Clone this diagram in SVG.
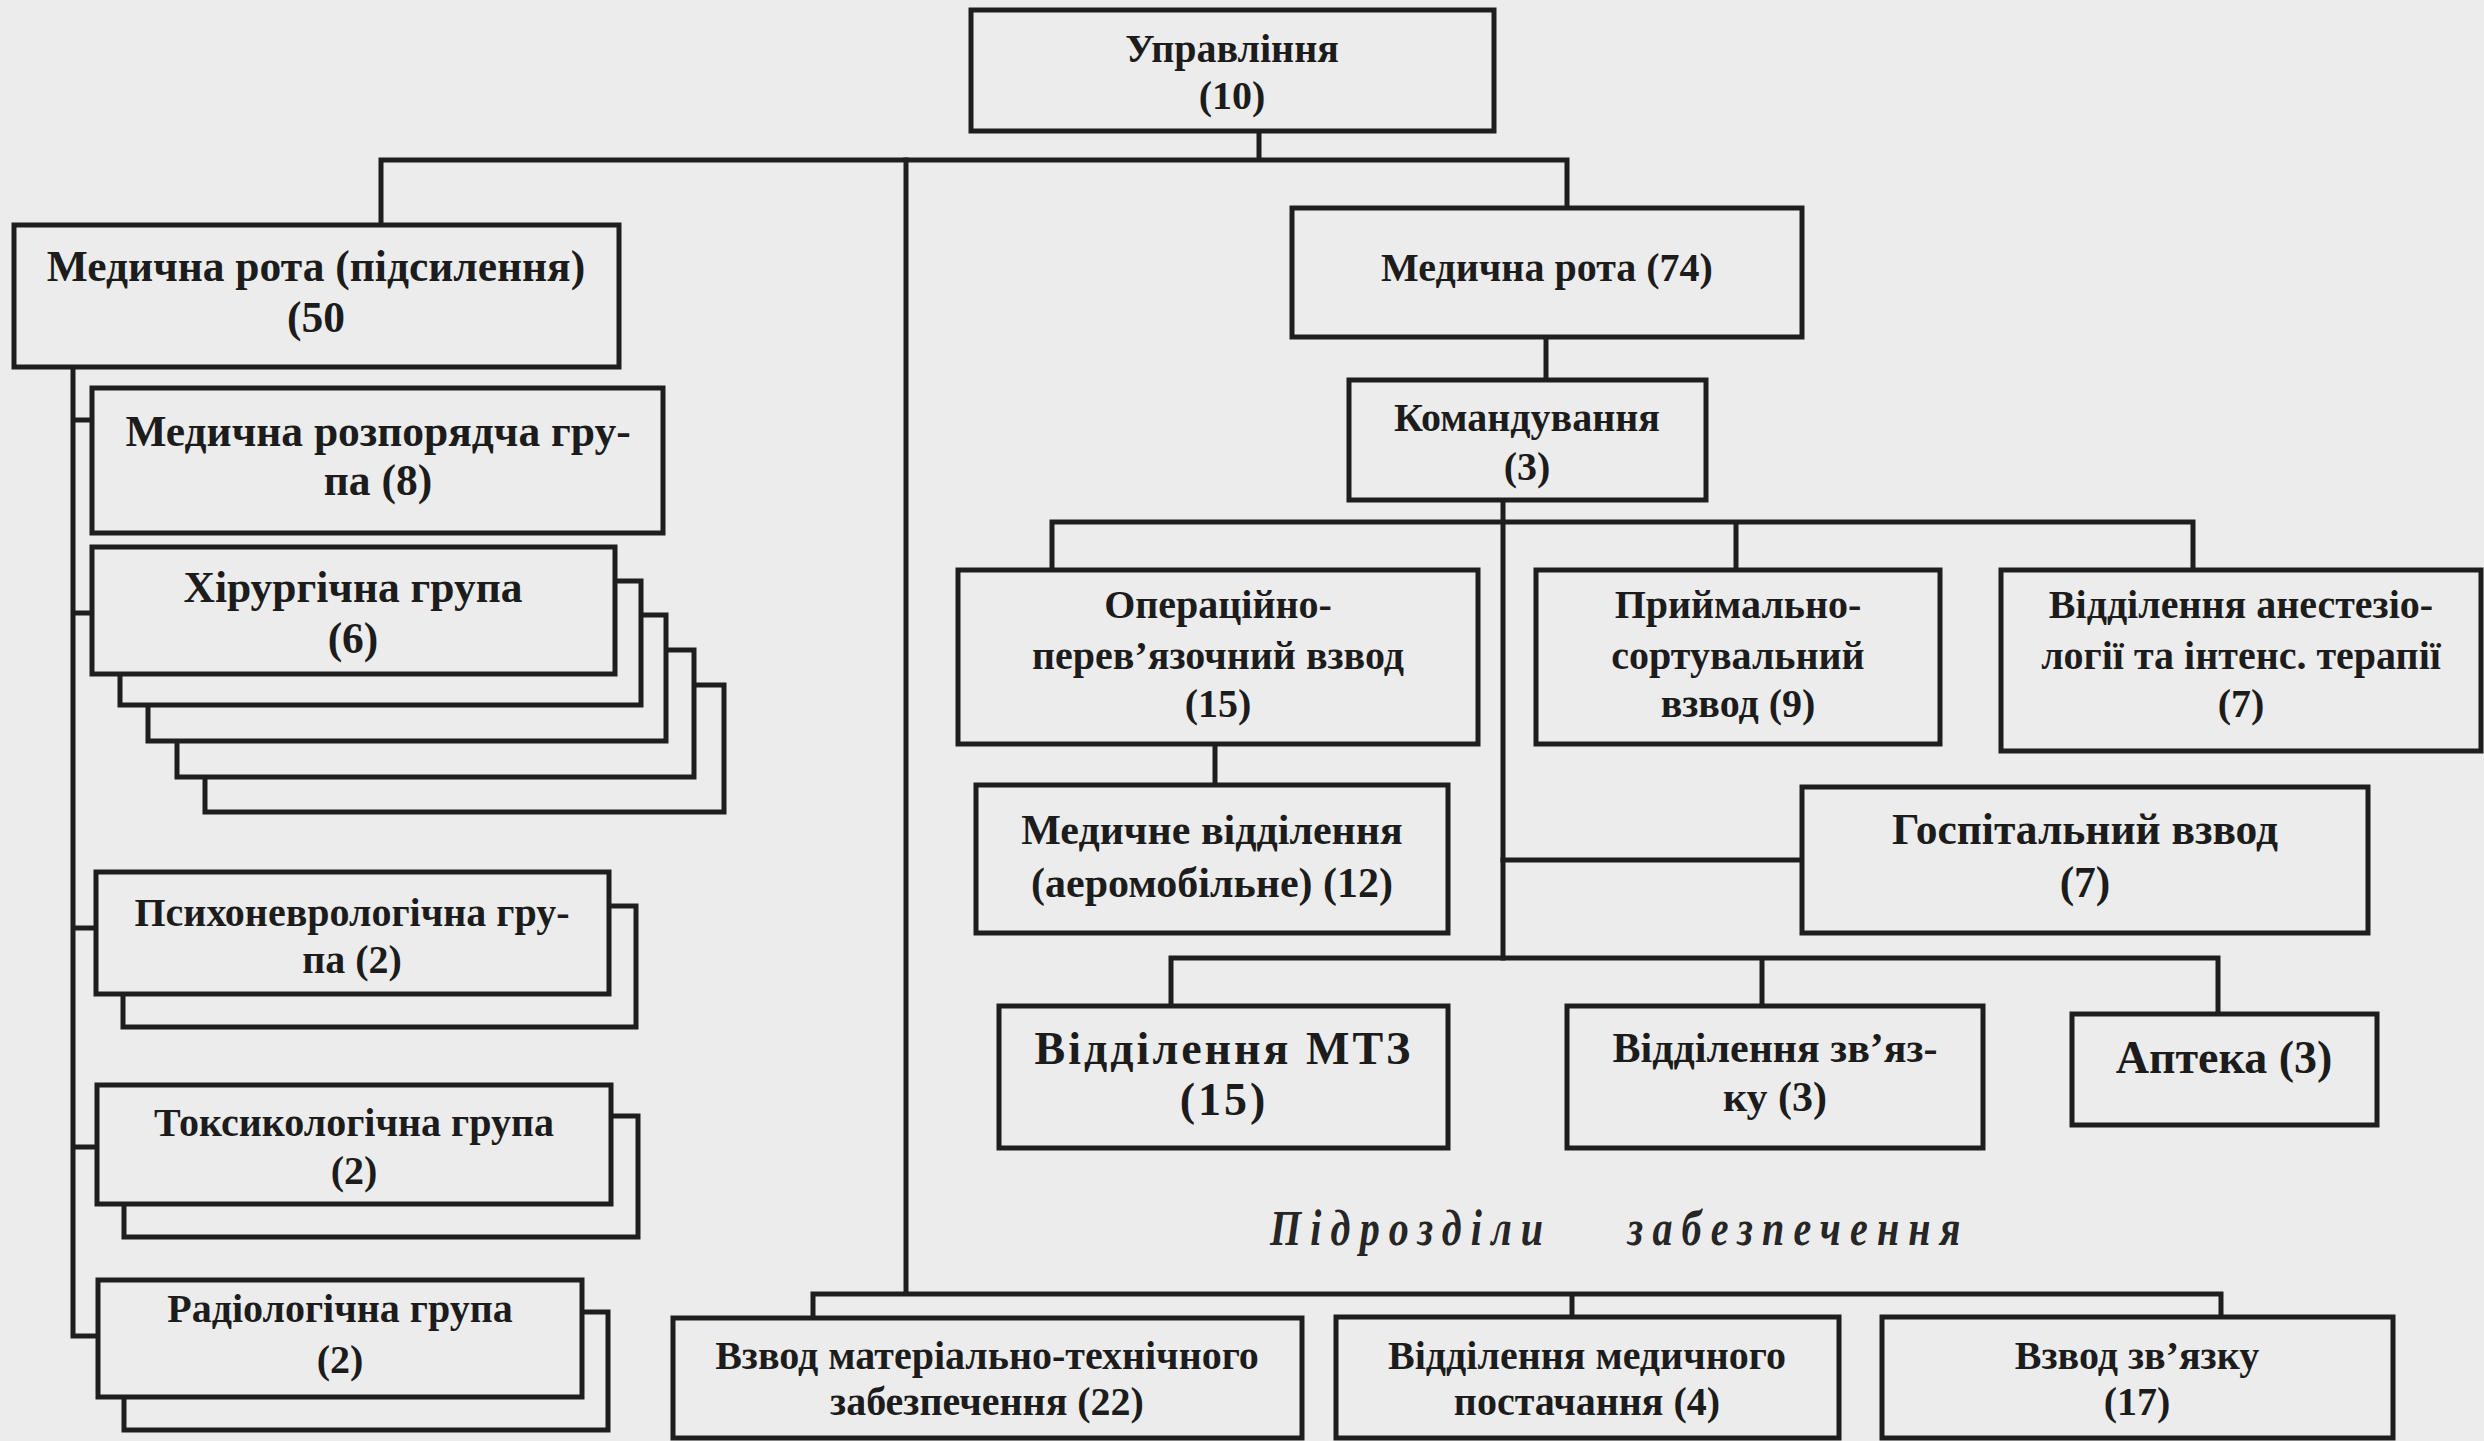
<svg xmlns="http://www.w3.org/2000/svg" width="2484" height="1441" viewBox="0 0 2484 1441">
<style>
  .bg { fill: #ececec; }
  .box { fill: #ececec; stroke: #1e1e1e; stroke-width: 5; }
  .ln { fill: none; stroke: #1e1e1e; stroke-width: 5; stroke-linecap: square; }
  text { font-family: "Liberation Serif", "Times New Roman", serif; font-weight: bold; font-size: 40px; fill: #1c1c1c; text-anchor: middle; }
  .lg { font-size: 43.5px; }
  .md { font-size: 42px; }
  .big { font-size: 46px; letter-spacing: 3px; }
  .sub { font-style: italic; font-size: 50px; letter-spacing: 11.5px; text-anchor: start; fill: #262626; }
</style>
<rect class="bg" x="0" y="0" width="2484" height="1441"/>

<g id="connectors">
  <path class="ln" d="M1259 131 V160 M381 160 H1567 M381 160 V225 M1567 160 V208"/>
  <path class="ln" d="M1546 337 V380 M1503 500 V958 M1052 522 H2193 M1052 522 V570 M1736 522 V570 M2193 522 V570"/>
  <path class="ln" d="M1215 744 V785 M1503 860 H1802"/>
  <path class="ln" d="M1171 958 H2218 M1171 958 V1006 M1762 958 V1006 M2218 958 V1014"/>
  <path class="ln" d="M906 160 V1294 M813 1294 H2221 M813 1294 V1318 M1572 1294 V1317 M2221 1294 V1317"/>
  <path class="ln" d="M73 367 V1336 M73 420 H92 M73 613 H92 M73 928 H96 M73 1147 H97 M73 1336 H98"/>
</g>

<g id="n-upravlinnya">
  <rect class="box" x="971" y="10" width="523" height="121"/>
  <text x="1232" y="62">Управління</text>
  <text x="1232" y="109">(10)</text>
</g>

<g id="n-medrota-pidsylennya">
  <rect class="box" x="14" y="225" width="605" height="142"/>
  <text class="lg" x="316" y="281">Медична рота (підсилення)</text>
  <text class="lg" x="316" y="332">(50</text>
</g>

<g id="n-rozporyadcha">
  <rect class="box" x="92" y="388" width="571" height="145"/>
  <text class="lg" x="378" y="446">Медична розпорядча гру-</text>
  <text class="lg" x="378" y="495">па (8)</text>
</g>

<g id="n-khirurgichna">
  <rect class="box" x="205" y="685" width="519" height="127"/>
  <rect class="box" x="177" y="650" width="517" height="127"/>
  <rect class="box" x="148" y="615" width="518" height="126"/>
  <rect class="box" x="120" y="581" width="521" height="124"/>
  <rect class="box" x="92" y="547" width="523" height="127"/>
  <text class="lg" x="353" y="602">Хірургічна група</text>
  <text class="lg" x="353" y="653">(6)</text>
</g>

<g id="n-psykhonevrologichna">
  <rect class="box" x="123" y="906" width="513" height="121"/>
  <rect class="box" x="96" y="872" width="513" height="122"/>
  <text x="352" y="926">Психоневрологічна гру-</text>
  <text x="352" y="973">па (2)</text>
</g>

<g id="n-toksykologichna">
  <rect class="box" x="124" y="1116" width="514" height="121"/>
  <rect class="box" x="97" y="1085" width="514" height="119"/>
  <text x="354" y="1136">Токсикологічна група</text>
  <text x="354" y="1184">(2)</text>
</g>

<g id="n-radiologichna">
  <rect class="box" x="124" y="1312" width="484" height="118"/>
  <rect class="box" x="98" y="1280" width="484" height="117"/>
  <text x="340" y="1322">Радіологічна група</text>
  <text x="340" y="1373">(2)</text>
</g>

<g id="n-medrota74">
  <rect class="box" x="1292" y="208" width="510" height="129"/>
  <text x="1547" y="281">Медична рота (74)</text>
</g>

<g id="n-komanduvannya">
  <rect class="box" x="1349" y="380" width="357" height="120"/>
  <text x="1527" y="431">Командування</text>
  <text x="1527" y="480">(3)</text>
</g>

<g id="n-operatsiyno">
  <rect class="box" x="958" y="570" width="520" height="174"/>
  <text x="1218" y="618">Операційно-</text>
  <text x="1218" y="669">перев’язочний взвод</text>
  <text x="1218" y="717">(15)</text>
</g>

<g id="n-pryimalno">
  <rect class="box" x="1536" y="570" width="404" height="174"/>
  <text x="1738" y="618">Приймально-</text>
  <text x="1738" y="669">сортувальний</text>
  <text x="1738" y="717">взвод (9)</text>
</g>

<g id="n-anesteziologii">
  <rect class="box" x="2001" y="570" width="480" height="181"/>
  <text x="2241" y="618">Відділення анестезіо-</text>
  <text x="2241" y="669">логії та інтенс. терапії</text>
  <text x="2241" y="717">(7)</text>
</g>

<g id="n-medychne-viddilennya">
  <rect class="box" x="976" y="785" width="472" height="148"/>
  <text class="md" x="1212" y="844">Медичне відділення</text>
  <text class="md" x="1212" y="897">(аеромобільне) (12)</text>
</g>

<g id="n-hospitalnyi">
  <rect class="box" x="1802" y="787" width="566" height="146"/>
  <text class="lg" x="2085" y="844">Госпітальний взвод</text>
  <text class="lg" x="2085" y="897">(7)</text>
</g>

<g id="n-viddilennya-mtz">
  <rect class="box" x="999" y="1006" width="449" height="142"/>
  <text class="big" x="1224" y="1064">Відділення МТЗ</text>
  <text class="big" x="1224" y="1115">(15)</text>
</g>

<g id="n-viddilennya-zvyazku">
  <rect class="box" x="1567" y="1006" width="416" height="142"/>
  <text class="md" x="1775" y="1062">Відділення зв’яз-</text>
  <text class="md" x="1775" y="1111">ку (3)</text>
</g>

<g id="n-apteka">
  <rect class="box" x="2072" y="1014" width="305" height="111"/>
  <text class="big" x="2224" y="1073" style="letter-spacing:0">Аптека (3)</text>
</g>

<text class="sub" transform="translate(1270 1245) scale(0.8 1)"><tspan x="0" y="0">Підрозділи</tspan><tspan x="447" y="0">забезпечення</tspan></text>

<g id="n-vzvod-mtz">
  <rect class="box" x="673" y="1318" width="629" height="120"/>
  <text x="987" y="1369">Взвод матеріально-технічного</text>
  <text x="987" y="1415">забезпечення (22)</text>
</g>

<g id="n-medychnogo-postachannya">
  <rect class="box" x="1336" y="1317" width="503" height="121"/>
  <text x="1587" y="1369">Відділення медичного</text>
  <text x="1587" y="1415">постачання (4)</text>
</g>

<g id="n-vzvod-zvyazku">
  <rect class="box" x="1882" y="1317" width="511" height="121"/>
  <text x="2137" y="1369">Взвод зв’язку</text>
  <text x="2137" y="1415">(17)</text>
</g>
</svg>
